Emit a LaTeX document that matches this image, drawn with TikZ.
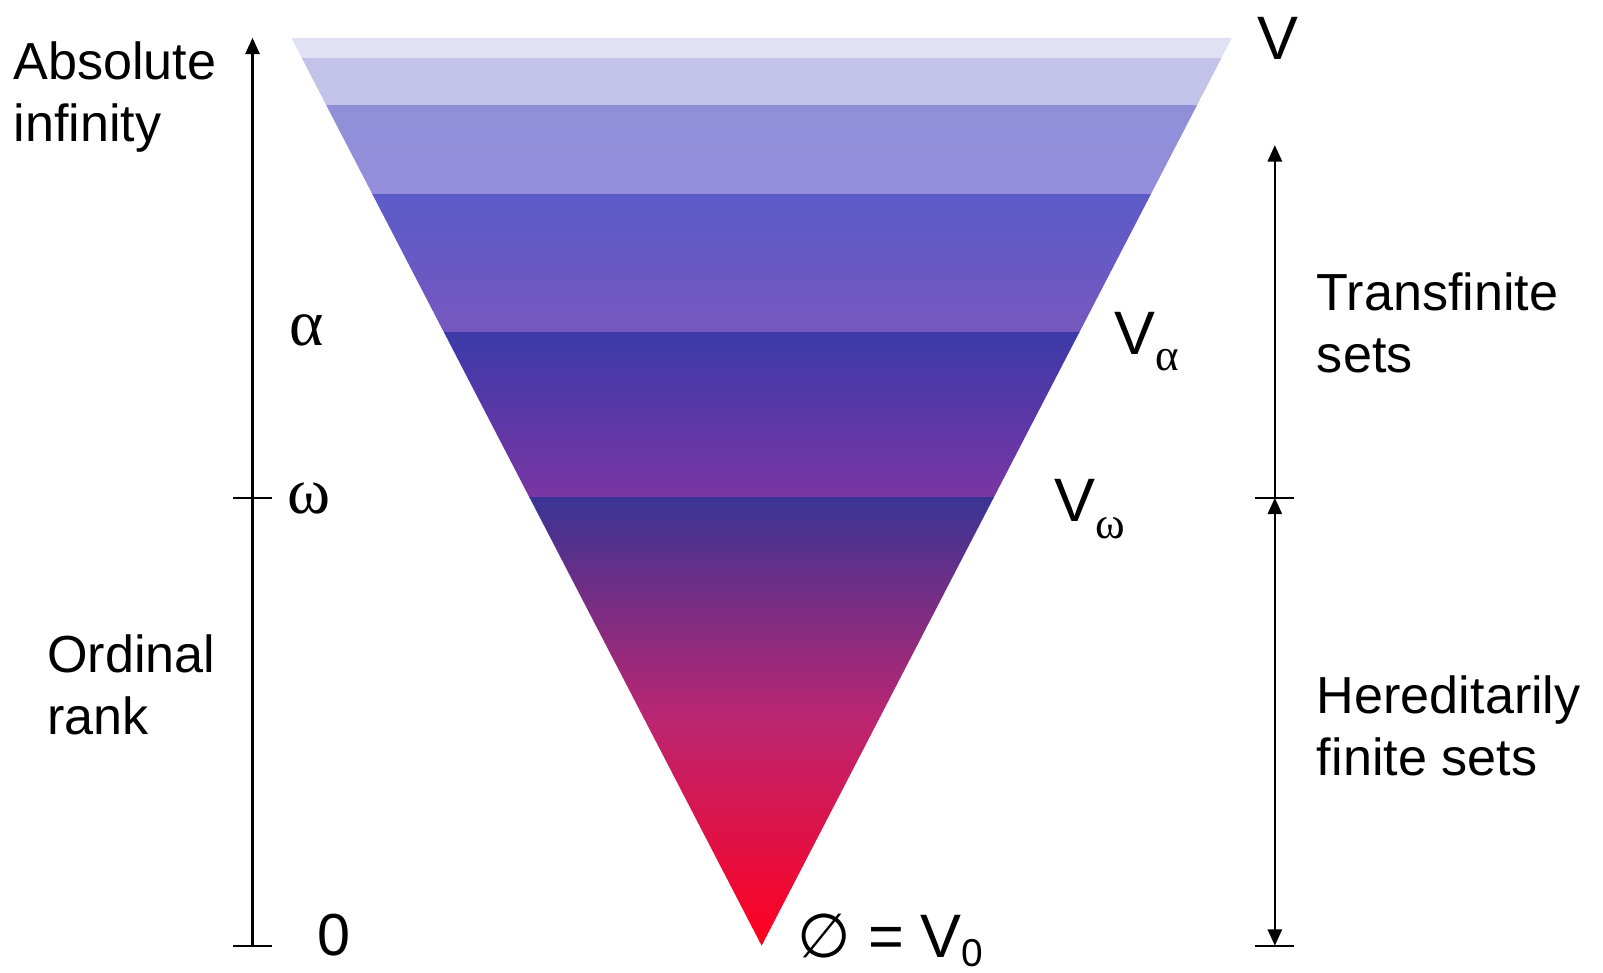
\documentclass[tikz,border=0pt]{standalone}
\usepackage{fontspec}
\setmainfont{Liberation Sans}
\newfontfamily\greek{Liberation Serif}
\newfontfamily\symb{DejaVu Sans}
\usetikzlibrary{arrows.meta}
\definecolor{bandA}{HTML}{E1E1F5}
\definecolor{bandB}{HTML}{C3C3E9}
\definecolor{bandCt}{HTML}{8F8FD8}
\definecolor{bandCb}{HTML}{958EDA}
\definecolor{bandDt}{HTML}{5B5BC8}
\definecolor{bandDb}{HTML}{7658BE}
\definecolor{bandEt}{HTML}{3B3AA8}
\definecolor{bandEb}{HTML}{7A36A4}
\definecolor{bandFt}{HTML}{3A3494}
\definecolor{bandFm}{HTML}{BA2672}
\definecolor{bandFb}{HTML}{FF0020}
\newcommand{\vlab}{\fontsize{60}{60}\selectfont}
\newcommand{\sublab}[3]{\raisebox{-#1}{\fontsize{#2}{#2}\selectfont #3}}

\begin{document}
\begin{tikzpicture}[x=1pt,y=1pt,>={Triangle[width=14pt,length=16pt]},
  axis/.style={line width=2pt},
  txt/.style={inner sep=0pt,align=left,anchor=north west,font=\fontsize{51}{60}\selectfont},
  gr/.style={inner sep=0pt,font=\greek\fontsize{64}{64}\selectfont}]
 \useasboundingbox (0,0) rectangle (1568,951);
 % the cumulative hierarchy
 \coordinate (tl) at (285,914);
 \coordinate (tr) at (1205,914);
 \coordinate (apex) at (745,26);
 \begin{scope}
  \clip (tl) -- (tr) -- (apex) -- cycle;
  \fill[bandA] (270,894) rectangle (1220,915);
  \fill[bandB] (270,848) rectangle (1220,894);
  \shade[top color=bandCt,bottom color=bandCb] (270,761) rectangle (1220,848);
  \shade[top color=bandDt,bottom color=bandDb] (270,626) rectangle (1220,761);
  \shade[top color=bandEt,bottom color=bandEb] (270,464) rectangle (1220,626);
  \shade[top color=bandFt,bottom color=bandFm] (270,250) rectangle (1220,464);
  \shade[top color=bandFm,bottom color=bandFb] (270,30) rectangle (1220,250.5);
  \fill[bandFb] (270,20) rectangle (1220,30.5);
 \end{scope}
 % ordinal axis
 \coordinate (rk0) at (247,26);
 \coordinate (rkw) at (247,464);
 \coordinate (rktop) at (247,914);
 \draw[axis,->] (rk0) -- (rktop);
 \draw[axis] ([xshift=-19pt]rk0) -- ([xshift=19pt]rk0);
 \draw[axis] ([xshift=-19pt]rkw) -- ([xshift=19pt]rkw);
 % right axis
 \coordinate (st0) at (1247,26);
 \coordinate (stw) at (1247,464);
 \coordinate (sttop) at (1247,809);
 \draw[axis,->] (stw) -- (sttop);
 \draw[axis,<->] (stw) -- (st0);
 \draw[axis] ([xshift=-19pt]st0) -- ([xshift=19pt]st0);
 \draw[axis] ([xshift=-19pt]stw) -- ([xshift=19pt]stw);
 % labels
 \node[txt] (absinf) at (13,910) {Absolute\\infinity};
 \node[txt] (ordrank) at (46,330) {Ordinal\\rank};
 \node[gr] (alpha) at (300,628) {α};
 \node[gr] (omega) at (302,463) {ω};
 \node[inner sep=0pt,font=\fontsize{58}{58}\selectfont] (zero) at (327,36) {0};
 \node[inner sep=0pt,font=\vlab] (vtop) at (1250,913) {V};
 \node[inner sep=0pt,anchor=base west,font=\vlab] (valpha) at (1090,604)
   {V\sublab{15pt}{44}{\greek α}};
 \node[inner sep=0pt,anchor=base west,font=\vlab] (vomega) at (1031,441)
   {V\sublab{17pt}{44}{\greek ω}};
 \node[inner sep=0pt,anchor=base west,font=\vlab] (vzero) at (780,14)
   {{\symb ∅} = V\sublab{8pt}{38}{0}};
 \node[txt] (transf) at (1288,684) {Transfinite\\sets};
 \node[txt] (hered) at (1288,290) {Hereditarily\\finite sets};
\end{tikzpicture}
\end{document}
